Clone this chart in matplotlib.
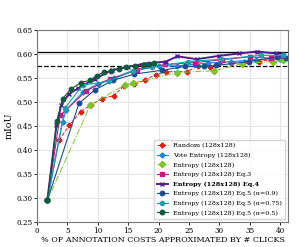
import matplotlib
matplotlib.use("Agg")
import matplotlib.pyplot as plt

plt.rcParams.update({
    "font.family": "DejaVu Serif",
    "font.size": 6,
    "xtick.labelsize": 5.2,
    "ytick.labelsize": 5.2,
    "axes.labelsize": 5.8,
    "legend.fontsize": 4.6,
})

# x: % of annotation cost, y: mIoU
random_x = [1.7, 3.6, 5.3, 7.2, 8.9, 10.7, 12.6, 14.3, 16.0, 17.7, 19.5, 21.2, 24.7, 26.5, 28.5, 30.0, 32.0, 34.0, 36.5, 38.5, 40.0]
random_y = [0.295, 0.420, 0.451, 0.480, 0.494, 0.507, 0.513, 0.533, 0.537, 0.545, 0.557, 0.563, 0.563, 0.575, 0.572, 0.582, 0.582, 0.584, 0.584, 0.588, 0.589]

vote_x = [1.7, 4.2, 4.8, 7.5, 10.0, 12.6, 16.3, 20.0, 23.0, 28.2, 32.0, 36.0, 40.0]
vote_y = [0.295, 0.458, 0.483, 0.520, 0.538, 0.550, 0.568, 0.575, 0.575, 0.581, 0.584, 0.588, 0.590]

ent_x = [1.7, 8.8, 14.5, 15.8, 23.0, 29.2, 33.8, 38.9, 40.5]
ent_y = [0.295, 0.494, 0.536, 0.539, 0.561, 0.565, 0.580, 0.584, 0.587]

eq3_x = [1.7, 3.8, 8.1, 12.0, 16.5, 21.0, 26.0, 30.5, 35.0, 38.5, 40.5]
eq3_y = [0.295, 0.472, 0.523, 0.548, 0.566, 0.578, 0.582, 0.588, 0.594, 0.591, 0.595]

eq4_x = [1.7, 3.2, 4.0, 5.2, 6.7, 9.5, 12.3, 15.0, 17.7, 21.2, 23.1, 26.3, 30.0, 33.3, 36.2, 39.3, 40.5]
eq4_y = [0.295, 0.452, 0.494, 0.516, 0.528, 0.548, 0.566, 0.573, 0.580, 0.584, 0.595, 0.589, 0.596, 0.601, 0.605, 0.601, 0.600]

a09_x = [1.7, 6.9, 9.5, 12.5, 16.0, 20.6, 24.4, 27.4, 29.5, 34.9, 39.5, 41.0]
a09_y = [0.295, 0.497, 0.525, 0.545, 0.558, 0.566, 0.574, 0.574, 0.576, 0.584, 0.594, 0.592]

a075_x = [1.7, 4.6, 7.5, 11.8, 15.8, 19.0, 24.8, 30.3, 36.8, 40.5]
a075_y = [0.295, 0.487, 0.535, 0.543, 0.565, 0.572, 0.584, 0.589, 0.597, 0.597]

a05_x = [1.7, 3.3, 4.2, 5.6, 7.2, 8.7, 9.8, 11.0, 12.2, 13.5, 14.7, 16.1, 17.5, 18.5, 19.3]
a05_y = [0.295, 0.461, 0.507, 0.527, 0.540, 0.545, 0.555, 0.562, 0.565, 0.569, 0.573, 0.575, 0.576, 0.580, 0.582]

upper_ref = 0.605
lower_ref = 0.575

fig = plt.figure(figsize=(2.96, 2.47), dpi=100)
ax = fig.add_axes([0.125, 0.101, 0.848, 0.778])

ax.axhline(upper_ref, color="black", lw=0.9)
ax.axhline(lower_ref, color="black", lw=0.9, ls="--")

ms = 3.2
ax.plot(random_x, random_y, color="#e0201c", ls="--", lw=0.7, marker="P", ms=ms, label="Random (128x128)")
ax.plot(vote_x, vote_y, color="#1f86d9", lw=0.8, marker="D", ms=2.6, label="Vote Entropy (128x128)")
ax.plot(ent_x, ent_y, color="#7dc42a", ls="-.", lw=0.7, marker="D", ms=ms, label="Entropy (128x128)")
ax.plot(eq3_x, eq3_y, color="#c71a80", lw=0.8, marker="s", ms=ms, label="Entropy (128x128) Eq.3")
ax.plot(eq4_x, eq4_y, color="#561a8c", lw=1.4, marker="x", ms=ms, label="Entropy (128x128) Eq.4")
ax.plot(a09_x, a09_y, color="#1c4d92", lw=0.8, marker="o", ms=ms, label="Entropy (128x128) Eq.5 (\u03b1=0.9)")
ax.plot(a075_x, a075_y, color="#1aa0b2", lw=0.8, marker="h", ms=ms, label="Entropy (128x128) Eq.5 (\u03b1=0.75)")
ax.plot(a05_x, a05_y, color="#0d5a40", lw=0.8, marker="o", ms=ms, label="Entropy (128x128) Eq.5 (\u03b1=0.5)")

ax.set_xlim(0, 41.3)
ax.set_ylim(0.25, 0.65)
ax.set_xticks([0, 5, 10, 15, 20, 25, 30, 35, 40])
ax.set_yticks([0.25, 0.30, 0.35, 0.40, 0.45, 0.50, 0.55, 0.60, 0.65])
ax.set_yticklabels([f"{v:.2f}" for v in ax.get_yticks()])
ax.grid(color="#e6e6e6", lw=0.8)
ax.set_axisbelow(True)
for s in ax.spines.values():
    s.set_color("#777777")
    s.set_linewidth(0.8)
ax.tick_params(length=2, width=0.6, pad=1.5)

ax.set_xlabel("% OF ANNOTATION COSTS APPROXIMATED BY # CLICKS", labelpad=1)
ax.set_ylabel("mIoU", fontsize=6.8, labelpad=2)

leg = ax.legend(loc="lower right", frameon=True, borderpad=0.5, labelspacing=0.65,
                handlelength=1.7, fancybox=True, framealpha=0.8, edgecolor="#cccccc")
leg.get_texts()[4].set_fontweight("bold")

fig.savefig("out.png", dpi=100)
